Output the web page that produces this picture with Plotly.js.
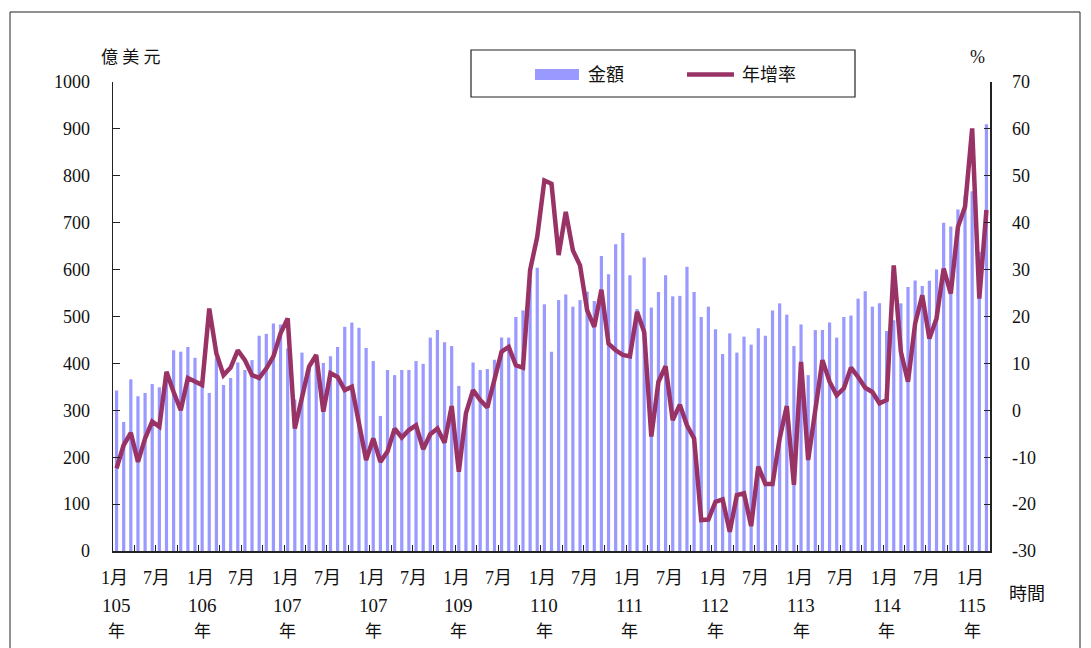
<!DOCTYPE html>
<html>
<head>
<meta charset="utf-8">
<script src="https://cdn.plot.ly/plotly-3.0.1.min.js"></script>
<style>
html,body{margin:0;padding:0;background:#fff;}
#chart{width:1091px;height:648px;}
</style>
</head>
<body>
<div id="chart"></div>
<script>
// 金額 (億美元), monthly from 105年1月 to 115年3月
const amounts = [
 342,275,366,330,337,356,349,380,428,425,435,412,
 360,337,411,354,369,402,386,407,459,463,485,483,
 432,323,423,388,413,401,415,435,478,487,476,433,
 405,288,386,375,386,386,405,399,455,471,445,437,
 352,287,402,386,388,408,455,455,499,513,579,604,
 526,425,535,547,521,535,553,533,629,590,654,678,
 588,516,626,519,552,588,543,544,606,552,499,521,
 473,420,464,423,457,440,475,459,513,528,504,437,
 483,375,471,471,487,455,499,502,538,554,521,528,
 469,492,528,563,577,565,576,600,700,692,728,758,
 767,638,910
];
// 年增率 (%)
const growth = [
 -12.4,-7.4,-4.8,-11.0,-6.0,-2.4,-3.5,8.2,3.9,0.0,6.9,6.1,
 5.4,21.7,12.1,7.5,9.1,12.8,10.7,7.5,6.9,8.9,11.5,16.4,
 19.6,-3.9,2.9,9.3,11.8,-0.3,7.9,7.1,4.3,5.0,-2.8,-10.6,
 -6.0,-11.0,-8.8,-3.9,-5.8,-4.2,-3.2,-8.3,-5.1,-3.9,-6.9,0.9,
 -13.1,-0.6,4.3,2.2,0.6,6.4,12.5,13.5,9.6,9.1,29.9,37.0,
 49.0,48.3,33.1,42.3,34.1,30.9,21.3,17.8,25.7,14.2,12.8,11.8,
 11.5,21.0,16.7,-5.6,6.1,9.4,-2.1,1.2,-3.2,-6.0,-23.4,-23.3,
 -19.5,-19.0,-25.9,-18.1,-17.7,-24.7,-12.0,-15.7,-15.7,-6.0,0.9,-15.9,
 10.3,-10.6,-0.6,10.7,6.1,3.2,4.7,9.1,7.1,4.8,3.9,1.5,
 2.2,30.9,12.5,6.1,18.5,24.5,15.3,19.6,30.2,24.9,39.1,43.4,
 60.1,23.8,42.7
];
// tick labels
const yearLabels = ['105','106','107','107','109','110','111','112','113','114','115'];
const janLabel = '1月';
const julLabel = '7月';
const leftTicks = [0,100,200,300,400,500,600,700,800,900,1000];
const rightTicks = [-30,-20,-10,0,10,20,30,40,50,60,70];
const rightTickText = ['-30','-20','-10','0','10','20','30','40','50','60','70'];
const seriesNames = ['金額','年增率'];

const idx = amounts.map((_, i) => i);
const n = amounts.length;

const serif = "Liberation Serif, Times New Roman, serif";
const cjk = "Liberation Serif, Noto Sans CJK TC";
const barColor = '#9999FF';
const lineColor = '#993366';

const traces = [
  {type:'bar', x: idx, y: amounts, name: seriesNames[0], marker:{color: barColor}, yaxis:'y'},
  {type:'scatter', mode:'lines', x: idx, y: growth, name: seriesNames[1], line:{color: lineColor, width: 4.5}, yaxis:'y2'}
];

// x tick marks every 3 months (at month boundaries)
const xt = [];
for (let k = 3; k < n; k += 3) xt.push(k - 0.5);

const ann = [];
function px2py(py){ return (551 - py) / 469; }
function px2px(px){ return (px - 113) / 877; }
yearLabels.forEach((yl, k) => {
  const jan = 12 * k;
  const jul = 12 * k + 6;
  ann.push({x: jan, xref:'x', y: px2py(577.5), yref:'paper', text: janLabel, showarrow:false, xanchor:'center', yanchor:'middle', xshift:-2, font:{family: cjk, size:18, color:'#111'}});
  ann.push({x: jan, xref:'x', y: px2py(605), yref:'paper', text: yl, showarrow:false, xanchor:'center', yanchor:'middle', font:{family: serif, size:19, color:'#111'}});
  ann.push({x: jan, xref:'x', y: px2py(631.5), yref:'paper', text: '年', showarrow:false, xanchor:'center', yanchor:'middle', font:{family: cjk, size:17, color:'#111'}});
  if (jul < n) ann.push({x: jul, xref:'x', y: px2py(577.5), yref:'paper', text: julLabel, showarrow:false, xanchor:'center', yanchor:'middle', xshift:-3, font:{family: cjk, size:18, color:'#111'}});
});
// axis titles
ann.push({x: px2px(131), y: px2py(57), xref:'paper', yref:'paper', text:'億 美 元', showarrow:false, xanchor:'center', yanchor:'middle', font:{family: cjk, size:17, color:'#111'}});
ann.push({x: px2px(977), y: px2py(57), xref:'paper', yref:'paper', text:'%', showarrow:false, xanchor:'center', yanchor:'middle', font:{family: serif, size:18, color:'#111'}});
ann.push({x: px2px(1027), y: px2py(594), xref:'paper', yref:'paper', text:'時間', showarrow:false, xanchor:'center', yanchor:'middle', font:{family: cjk, size:18, color:'#111'}});
// legend texts
ann.push({x: px2px(586), y: px2py(75), xref:'paper', yref:'paper', text: seriesNames[0], showarrow:false, xanchor:'left', yanchor:'middle', font:{family: cjk, size:18, color:'#111'}});
ann.push({x: px2px(740), y: px2py(75), xref:'paper', yref:'paper', text: seriesNames[1], showarrow:false, xanchor:'left', yanchor:'middle', font:{family: cjk, size:18, color:'#111'}});

const shapes = [
  // outer frame
  {type:'rect', xref:'paper', yref:'paper', x0: px2px(10), x1: px2px(1080), y0: px2py(700), y1: px2py(12), line:{color:'#222', width:1}, fillcolor:'rgba(0,0,0,0)', layer:'below'},
  // legend box
  {type:'rect', xref:'paper', yref:'paper', x0: px2px(471), x1: px2px(855), y0: px2py(97), y1: px2py(50), line:{color:'#222', width:1.2}, fillcolor:'#fff'},
  // bar swatch
  {type:'rect', xref:'paper', yref:'paper', x0: px2px(535), x1: px2px(579), y0: px2py(80), y1: px2py(69), line:{width:0}, fillcolor: barColor},
  // line swatch
  {type:'line', xref:'paper', yref:'paper', x0: px2px(687), x1: px2px(734), y0: px2py(74.5), y1: px2py(74.5), line:{color: lineColor, width:4.5}}
];

const layout = {
  width:1091, height:648,
  margin:{l:113, r:101, t:82, b:97, pad:0},
  paper_bgcolor:'#fff', plot_bgcolor:'#fff',
  showlegend:false,
  bargap:0.55,
  xaxis:{range:[-0.5, n-0.5], tickmode:'array', tickvals: xt, ticks:'inside', ticklen:6, tickcolor:'#222', tickwidth:1,
         showticklabels:false, showline:true, linecolor:'#222', linewidth:1.5, showgrid:false, zeroline:false, fixedrange:true},
  yaxis:{range:[0,1000], tickmode:'array', tickvals: leftTicks, ticks:'inside', ticklen:7, tickcolor:'#222', showline:true, linecolor:'#222', linewidth:1.5,
         showgrid:false, zeroline:false, ticklabelstandoff:18, tickfont:{family: serif, size:18, color:'#111'}},
  yaxis2:{range:[-30,70], tickmode:'array', tickvals: rightTicks, ticktext: rightTickText, overlaying:'y', side:'right', ticks:'inside', ticklen:6, tickcolor:'#222', showline:true,
          linecolor:'#222', linewidth:1.5, showgrid:false, zeroline:false, ticklabelstandoff:17, tickfont:{family: serif, size:18, color:'#111'}},
  annotations: ann,
  shapes: shapes,
  font:{family: serif, color:'#111'}
};

Plotly.newPlot('chart', traces, layout, {staticPlot:true, displayModeBar:false});
</script>
</body>
</html>
